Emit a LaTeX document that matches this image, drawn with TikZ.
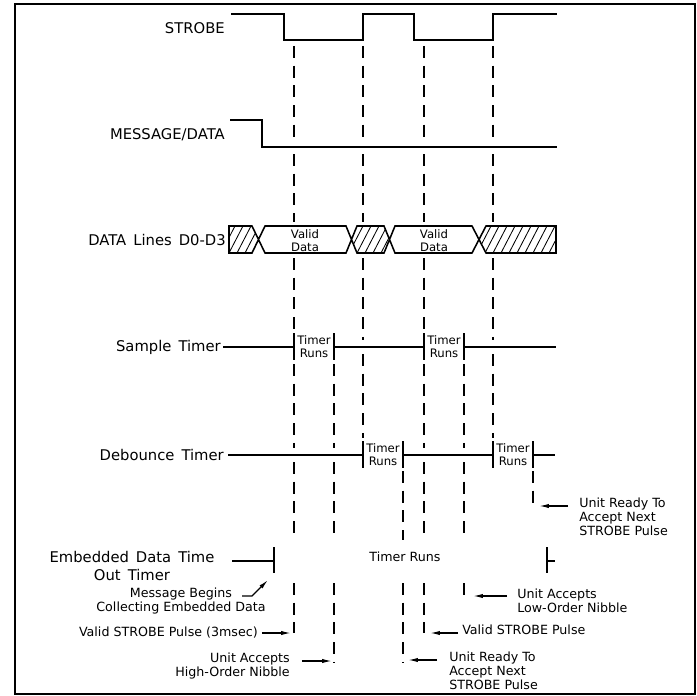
\documentclass[tikz,border=0pt]{standalone}
\usepackage{fontspec}
\setmainfont{DejaVu Sans}
\newfontfamily\lblfont[WordSpace=1.5]{DejaVu Sans}
\usetikzlibrary{arrows.meta}
\tikzset{
  sig/.style={line width=1.1pt},
  guide/.style={line width=0.9pt,dash pattern=on 8.5pt off 5.5pt},
  lbl/.style={font=\lblfont\fontsize{10.5}{12.8}\selectfont,anchor=east,inner sep=0pt},
  tiny/.style={font=\fontsize{8.3}{9.3}\selectfont,align=center,inner sep=0pt},
  note/.style={font=\fontsize{9}{9.8}\selectfont,inner sep=0pt},
  ptr/.style={line width=0.9pt,-{Latex[length=7pt,width=3pt]}}
}
\begin{document}
\begin{tikzpicture}[x=0.025cm,y=-0.025cm]
  \useasboundingbox (0,0) rectangle (697,696);
  \draw[line width=1.4pt] (15,4) rectangle (695,694);
  \node[lbl] (strobe) at (225,28) {STROBE};
  \node[lbl] (msg) at (225,135) {MESSAGE/DATA};
  \node[lbl] (dlines) at (226,240) {DATA Lines D0-D3};
  \node[lbl] (stimer) at (221,347) {Sample Timer};
  \node[lbl] (dtimer) at (224,455) {Debounce Timer};
  \node[lbl,anchor=center,align=center] (etimer) at (132,566) {Embedded Data Time\\Out Timer};
  \draw[sig] (231,14) -- (284,14) -- (284,40) -- (363,40) -- (363,14) -- (414,14) -- (414,40) -- (493,40) -- (493,14) -- (557,14);
  \draw[sig] (230,120) -- (262,120) -- (262,147) -- (557,147);
  \begin{scope}
    \clip (229,226) -- (252,226) -- (258.5,239.5) -- (252,253) -- (229,253) -- cycle
      (351.5,239.5) -- (357,226) -- (384,226) -- (389.5,239.5) -- (384,253) -- (357,253) -- cycle
      (479,239.5) -- (486,226) -- (556,226) -- (556,253) -- (486,253) -- cycle;
    \foreach \h in {213,221,...,557}
      \draw[line width=0.6pt] (\h,253) -- (\h+14,226);
  \end{scope}
  \draw[sig] (229,226) -- (252,226) -- (265,253) -- (346,253) -- (357,226) -- (384,226) -- (395,253) -- (472,253) -- (486,226) -- (556,226) -- (556,253) -- (486,253) -- (472,226) -- (395,226) -- (384,253) -- (357,253) -- (346,226) -- (265,226) -- (252,253) -- (229,253) -- cycle;
  \node[tiny] (vd1) at (305,241) {Valid\\Data};
  \node[tiny] (vd2) at (434,241) {Valid\\Data};
  \draw[sig] (223,347) -- (294,347) (334,347) -- (424,347) (464,347) -- (556,347);
  \foreach \x in {294,334,424,464}
    \draw[sig] (\x,333) -- (\x,360);
  \node[tiny] (sr1) at (314,347) {Timer\\Runs};
  \node[tiny] (sr2) at (444,347) {Timer\\Runs};
  \draw[sig] (228,455) -- (363,455) (403,455) -- (493,455) (533,455) -- (555,455);
  \foreach \x in {363,403,493,533}
    \draw[sig] (\x,441) -- (\x,468);
  \node[tiny] (dr1) at (383,455) {Timer\\Runs};
  \node[tiny] (dr2) at (513,455) {Timer\\Runs};
  \draw[sig] (232,561) -- (274,561) (274,547) -- (274,573);
  \draw[sig] (547,547) -- (547,573) (547,561) -- (555,561);
  \node[note] (eruns) at (405,557) {Timer Runs};
  \foreach \x/\a/\b in {294/46/140,294/154/222,294/258/331,294/364/448,294/462/540,294/583/633,
      334/364/448,334/462/540,334/583/662,
      363/46/140,363/154/222,363/258/340,363/354/438,
      403/471/540,403/583/662,
      424/46/140,424/154/222,424/258/331,424/364/448,424/462/540,424/583/633,
      464/364/448,464/462/540,464/583/596,
      493/46/140,493/154/222,493/258/340,493/354/438,
      533/471/506}
    \draw[guide] (\x,\a) -- (\x,\b);
  \node[note,align=center] (n1) at (181,601) {Message Begins\\Collecting Embedded Data};
  \coordinate (m0) at (242,596);
  \coordinate (t1) at (268,580);
  \draw[ptr] (m0) -- ++(10,0) -- (t1);
  \node[note,anchor=east] (n2) at (258,633) {Valid STROBE Pulse (3msec)};
  \coordinate (t2) at (291,633);
  \draw[ptr] ([xshift=2.8pt]n2.east |- t2) -- (t2);
  \node[note,anchor=east,align=right] (n3) at (290,666) {Unit Accepts\\High-Order Nibble};
  \coordinate (t3) at (332,661);
  \draw[ptr] ([xshift=8.5pt]n3.east |- t3) -- (t3);
  \node[note,anchor=west,align=left] (n4) at (579,516.5) {Unit Ready To\\Accept Next\\STROBE Pulse};
  \coordinate (t4) at (539,506);
  \draw[ptr] ([xshift=-7.8pt]n4.west |- t4) -- (t4);
  \node[note,anchor=west,align=left] (n5) at (517,601) {Unit Accepts\\Low-Order Nibble};
  \coordinate (t5) at (473,596);
  \draw[ptr] ([xshift=-7pt]n5.west |- t5) -- (t5);
  \node[note,anchor=west] (n6) at (462,630) {Valid STROBE Pulse};
  \coordinate (t6) at (430,633);
  \draw[ptr] ([xshift=-2.8pt]n6.west |- t6) -- (t6);
  \node[note,anchor=west,align=left] (n7) at (449,670.5) {Unit Ready To\\Accept Next\\STROBE Pulse};
  \coordinate (t7) at (408,660);
  \draw[ptr] ([xshift=-8.5pt]n7.west |- t7) -- (t7);
\end{tikzpicture}
\end{document}
